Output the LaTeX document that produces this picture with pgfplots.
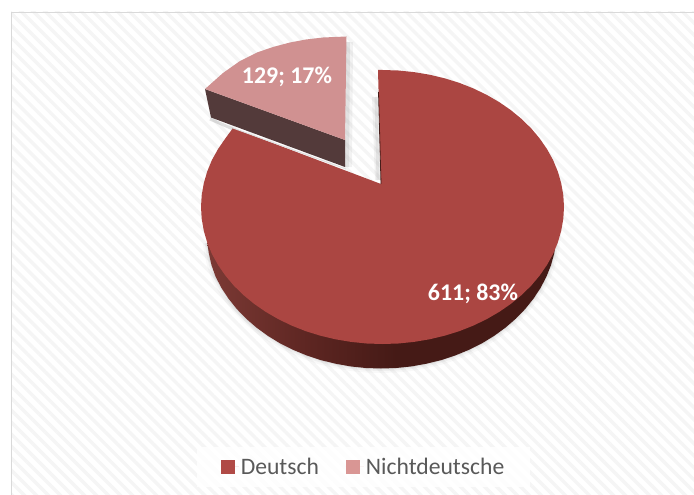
\documentclass[border=0pt]{standalone}
\usepackage{pgfplots}
\pgfplotsset{compat=1.18}
\usepackage{pgfplotstable}
\usepackage{fontspec}
\setmainfont{Carlito}
\usetikzlibrary{patterns.meta}

\definecolor{pieDark}{HTML}{AB4642}
\definecolor{pieLight}{HTML}{D09191}
\definecolor{swatchDark}{HTML}{B04A46}
\definecolor{swatchLight}{HTML}{D99694}
\definecolor{sideLight}{HTML}{533A3A}
\definecolor{frameLine}{HTML}{D9D9D9}
\definecolor{legendText}{HTML}{595959}
\definecolor{stripe}{HTML}{F5F5F5}
\definecolor{sideA}{HTML}{7C3A35}
\definecolor{sideB}{HTML}{5C2521}
\definecolor{sideC}{HTML}{451A16}
\pgfdeclarehorizontalshading{sideshade}{100bp}{color(0bp)=(sideA); color(25bp)=(sideA); color(40bp)=(sideB); color(52bp)=(sideC); color(100bp)=(sideC)}

% outlines in pixels
\pgfplotstableread{
x y
378.0 70.0
382.5 70.0
398.3 70.5
414.0 72.1
429.5 74.7
444.6 78.3
459.2 82.8
473.3 88.4
486.6 94.8
499.2 102.1
510.8 110.1
521.5 118.9
531.2 128.4
539.7 138.5
547.0 149.1
553.1 160.1
557.8 171.5
561.2 183.2
563.3 195.1
564.0 207.0
563.3 218.9
561.2 230.8
557.8 242.5
553.1 253.9
547.0 264.9
539.7 275.5
531.2 285.6
521.5 295.1
510.8 303.9
499.2 311.9
486.6 319.2
473.3 325.6
459.2 331.2
444.6 335.7
429.5 339.3
414.0 341.9
398.3 343.5
382.5 344.0
366.7 343.5
351.0 341.9
335.5 339.3
320.4 335.7
305.8 331.2
291.7 325.6
278.4 319.2
265.8 311.9
254.2 303.9
243.5 295.1
233.8 285.6
225.3 275.5
218.0 264.9
211.9 253.9
207.2 242.5
203.8 230.8
201.7 218.9
201.0 207.0
201.7 195.1
203.8 183.2
207.2 171.5
211.9 160.1
218.0 149.1
225.3 138.5
233.0 128.0
381.0 184.0
}\bigtop

\pgfplotstableread{
x y
557.0 229.0
554.3 253.2
551.0 265.1
546.4 276.7
540.5 288.0
533.4 298.8
525.2 309.0
515.8 318.7
505.5 327.6
494.1 335.9
482.0 343.3
469.0 349.8
455.4 355.4
441.2 360.1
426.5 363.7
411.6 366.4
396.3 368.0
381.0 368.5
365.7 368.0
350.4 366.4
335.5 363.7
320.8 360.1
306.6 355.4
293.0 349.8
280.0 343.3
267.9 335.9
256.5 327.6
246.2 318.7
236.8 309.0
228.6 298.8
221.5 288.0
215.6 276.7
211.5 265.1
208.8 253.2
207.3 243.0
}\bigside

\pgfplotstableread{
x y
346.5 36.5
323.0 37.5
306.0 39.5
290.0 42.5
273.0 47.0
257.0 52.5
240.0 61.0
223.0 73.0
205.0 89.0
345.0 140.0
}\smalltop

\pgfplotstableread{
x y
205.0 89.0
345.0 140.0
345.0 167.0
211.0 117.5
}\smallside

\begin{document}
\begin{tikzpicture}
\begin{axis}[
    scale only axis,
    width=694bp, height=495bp,
    xmin=0, xmax=694, ymin=0, ymax=495,
    y dir=reverse,
    axis lines=none,
    clip=true,
    legend columns=2,
    legend cell align=left,
    legend style={
        at={(rel axis cs:0.5238,0.0566)}, anchor=center,
        draw=none, fill=white, fill opacity=0.8, text opacity=1,
        inner xsep=24bp, inner ysep=9bp,
        font=\fontsize{23.7}{27}\selectfont, text=legendText,
        /tikz/every even column/.append style={column sep=25bp},
    },
    legend image code/.code={
        \path (0bp,0bp) -- (18bp,0bp);
        \fill[#1, fill opacity=1] (0bp,-7bp) rectangle (14bp,7bp);
    },
]
\path[use as bounding box] (rel axis cs:0,0) rectangle (rel axis cs:1,1);

% frame with the stripes
\addplot[draw=none, forget plot, pattern={Lines[angle=-45, distance=8.5bp, line width=3.5bp]}, pattern color=stripe]
    coordinates {(11,12) (694,12) (694,495) (11,495)};
\addplot[frameLine, line width=0.8bp, forget plot] coordinates {(11.5,495) (11.5,12.5) (694,12.5)};

% soft shadow under the pie
\addplot[gray, opacity=0.05, line width=9bp, forget plot] table[x=x,y=y] {\bigside};
\addplot[gray, opacity=0.08, line width=5bp, forget plot] table[x=x,y=y] {\bigside};
\addplot[gray, opacity=0.10, line width=2bp, forget plot] table[x=x,y=y] {\bigside};

% big slice
\addplot[draw=none, shading=sideshade, forget plot] table[x=x,y=y] {\bigside};
\addplot[draw=none, fill=pieDark, forget plot] table[x=x,y=y] {\bigtop};
\addplot[sideC, line width=0.8bp, forget plot] coordinates {(378.5,92) (381,184)};

% shadows of the small slice and at the notch
\addplot[gray, opacity=0.10, line width=8bp, forget plot] coordinates {(349,42) (348,167)};
\addplot[gray, opacity=0.14, line width=4bp, forget plot] coordinates {(348,42) (347,167)};
\addplot[gray, opacity=0.10, line width=6bp, forget plot] coordinates {(375,97) (378,180)};
\addplot[gray, opacity=0.14, line width=3bp, forget plot] coordinates {(376,97) (378,180)};
\addplot[gray, opacity=0.25, line width=3bp, forget plot] coordinates {(210,119) (233,129)};
\addplot[white!75!gray, line width=1bp, forget plot] coordinates {(233,128) (346,169)};

% small slice
\addplot[draw=none, fill=sideLight, forget plot] table[x=x,y=y] {\smallside};
\addplot[draw=none, fill=pieLight, forget plot] table[x=x,y=y] {\smalltop};

% legend
\addlegendimage{fill=swatchDark, draw=none}
\addlegendentry{Deutsch}
\addlegendimage{fill=swatchLight, draw=none}
\addlegendentry{Nichtdeutsche}

\node[white, font=\fontsize{24}{26}\selectfont\bfseries] at (axis cs:287,76.5) {129; 17\%};
\node[white, font=\fontsize{24}{26}\selectfont\bfseries] at (axis cs:473,294) {611; 83\%};
\end{axis}
\end{tikzpicture}
\end{document}
